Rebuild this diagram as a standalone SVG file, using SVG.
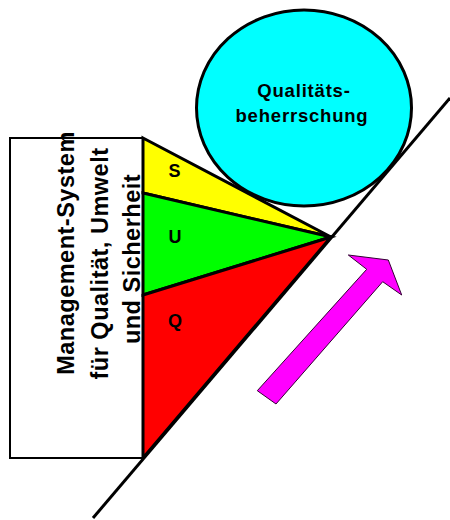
<svg xmlns="http://www.w3.org/2000/svg" width="450" height="520" viewBox="0 0 450 520">
<style>
.lbl{font-family:"Liberation Sans",Arial,sans-serif;font-weight:bold;fill:#000;}
.edge{stroke:#000;stroke-width:3;stroke-linejoin:miter;}
</style>
<rect x="0" y="0" width="450" height="520" fill="#fff"/>
<g id="management-system">
<rect x="10" y="138" width="133" height="320" fill="#fff" stroke="#000" stroke-width="2"/>
<text class="lbl" font-size="23.5" letter-spacing="0.5" text-anchor="middle" transform="translate(74,253) rotate(-90)">Management-System</text>
<text class="lbl" font-size="23.5" letter-spacing="0.5" text-anchor="middle" transform="translate(107.5,263.5) rotate(-90)">für Qualität, Umwelt</text>
<text class="lbl" font-size="23.5" letter-spacing="0.5" text-anchor="middle" transform="translate(139.5,259) rotate(-90)">und Sicherheit</text>
</g>
<g id="connectors">
<line x1="93" y1="518" x2="450" y2="98" stroke="#000" stroke-width="3"/>
</g>
<g id="S">
<polygon class="edge" points="143,138 331,237 143,193" fill="#ffff00"/>
<text class="lbl" font-size="18" text-anchor="middle" x="174.5" y="177">S</text>
</g>
<g id="U">
<polygon class="edge" points="143,193 331,237 143,295" fill="#00ff00"/>
<text class="lbl" font-size="18" text-anchor="middle" x="175" y="243">U</text>
</g>
<g id="Q">
<polygon class="edge" points="143,295 331,237 143,458" fill="#ff0000"/>
<text class="lbl" font-size="18" text-anchor="middle" x="175" y="327">Q</text>
</g>
<g id="qualitaetsbeherrschung">
<ellipse cx="304" cy="108" rx="107.5" ry="98" fill="#00ffff" stroke="#000" stroke-width="3"/>
<text class="lbl" font-size="18.5" letter-spacing="0.8" text-anchor="middle" x="304" y="96.5">Qualitäts-</text>
<text class="lbl" font-size="18.5" letter-spacing="0.8" text-anchor="middle" x="302" y="121.5">beherrschung</text>
</g>
<g id="arrow">
<polygon points="257.3,390.7 276,404 382.7,281.7 401.7,295 388.3,260 348.3,255 366.7,269.3" fill="#ff00ff" stroke="#330033" stroke-width="1"/>
</g>
</svg>
